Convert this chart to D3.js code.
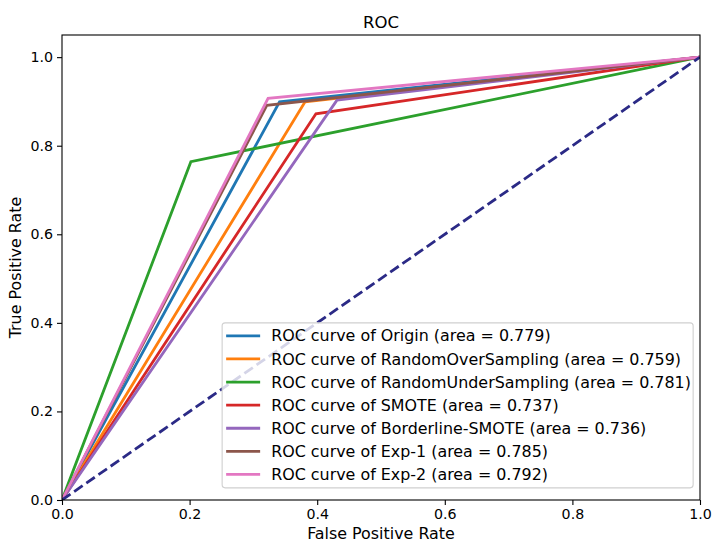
<!DOCTYPE html>
<html>
<head>
<meta charset="utf-8">
<script src="https://cdn.jsdelivr.net/npm/d3@7"></script>
<style>
  body { margin: 0; background: #fff; }
  svg text { font-family: "DejaVu Sans", sans-serif; fill: #000; }
</style>
</head>
<body>
<svg width="712" height="543"></svg>
<script>
    // ROC operating points (one threshold each)
    const names = ["Origin", "RandomOverSampling", "RandomUnderSampling", "SMOTE", "Borderline-SMOTE", "Exp-1", "Exp-2"];
    const fprs = [0.341, 0.381, 0.202, 0.398, 0.431, 0.321, 0.323];
    const tprs = [0.899, 0.899, 0.764, 0.872, 0.903, 0.891, 0.907];
    const areas = ["0.779", "0.759", "0.781", "0.737", "0.736", "0.785", "0.792"];
    const colors = ["#1f77b4", "#ff7f0e", "#2ca02c", "#d62728", "#9467bd", "#8c564b", "#e377c2"];
    const ticks = [0, 0.2, 0.4, 0.6, 0.8, 1.0];

    const svg = d3.select("svg"),
          margin = {top: 35, right: 12, bottom: 43, left: 62},
          width = +svg.attr("width") - margin.left - margin.right,
          height = +svg.attr("height") - margin.top - margin.bottom;

    const g = svg.append("g").attr("transform", `translate(${margin.left},${margin.top})`);

    const x = d3.scaleLinear().domain([0, 1]).range([0, width]);
    const y = d3.scaleLinear().domain([0, 1.05]).range([height, 0]);

    const series = names.map((n, i) => ({
      name: n,
      color: colors[i],
      label: `ROC curve of ${n} (area = ${areas[i]})`,
      pts: [[0, 0], [fprs[i], tprs[i]], [1, 1]]
    }));

    const line = d3.line()
      .x(d => x(d[0]))
      .y(d => y(d[1]));

    g.append("defs").append("clipPath").attr("id", "clip")
      .append("rect").attr("width", width).attr("height", height);

    const plot = g.append("g").attr("clip-path", "url(#clip)");

    plot.selectAll(".roc")
      .data(series)
      .enter().append("path")
      .attr("class", "roc")
      .attr("fill", "none")
      .attr("stroke", d => d.color)
      .attr("stroke-width", 2.8)
      .attr("stroke-linejoin", "miter")
      .attr("d", d => line(d.pts));

    // chance line
    plot.append("path")
      .attr("fill", "none")
      .attr("stroke", "#2b2a86")
      .attr("stroke-width", 2.8)
      .attr("stroke-dasharray", "10.3,4.5")
      .attr("d", line([[0, 0], [1, 1]]));

    // axes
    const xAxis = g.append("g")
      .attr("transform", `translate(0,${height})`)
      .call(d3.axisBottom(x).tickValues(ticks).tickFormat(d3.format(".1f")).tickSizeOuter(0).tickSize(5).tickPadding(4));
    const yAxis = g.append("g")
      .call(d3.axisLeft(y).tickValues(ticks).tickFormat(d3.format(".1f")).tickSizeOuter(0).tickSize(5).tickPadding(4));

    [xAxis, yAxis].forEach(a => {
      a.select(".domain").remove();
      a.selectAll("line").attr("stroke", "#000").attr("stroke-width", 1.1);
      a.selectAll("text").style("font-size", "14.2px").attr("fill", "#000");
    });

    g.append("rect")
      .attr("width", width)
      .attr("height", height)
      .attr("fill", "none")
      .attr("stroke", "#000")
      .attr("stroke-width", 1.1);

    // legend
    const legend = g.append("g").attr("transform", `translate(${x(0.251)},${y(0.4)})`);
    legend.append("rect")
      .attr("width", 471)
      .attr("height", 165)
      .attr("rx", 3)
      .attr("fill", "#fff")
      .attr("fill-opacity", 0.8)
      .attr("stroke", "#d0d0d0")
      .attr("stroke-width", 1.1);

    const rows = legend.selectAll(".row")
      .data(series)
      .enter().append("g")
      .attr("class", "row")
      .attr("transform", (d, i) => `translate(0,${13 + i * 23.1})`);

    rows.append("line")
      .attr("x1", 4).attr("x2", 38)
      .attr("stroke", d => d.color)
      .attr("stroke-width", 2.8);

    rows.append("text")
      .attr("x", 49)
      .attr("dy", "0.35em")
      .style("font-size", "15.9px")
      .text(d => d.label);

    // Chart title
    svg.append("text")
      .attr("x", margin.left + width / 2)
      .attr("y", 28)
      .attr("text-anchor", "middle")
      .style("font-size", "16.5px")
      .text("ROC");

    // X-axis label
    svg.append("text")
      .attr("x", margin.left + width / 2)
      .attr("y", 539)
      .attr("text-anchor", "middle")
      .style("font-size", "15.9px")
      .text("False Positive Rate");

    // Y-axis label
    svg.append("text")
      .attr("transform", "rotate(-90)")
      .attr("x", -(margin.top + height / 2))
      .attr("y", 21)
      .attr("text-anchor", "middle")
      .style("font-size", "15.9px")
      .text("True Positive Rate");
</script>
</body>
</html>
